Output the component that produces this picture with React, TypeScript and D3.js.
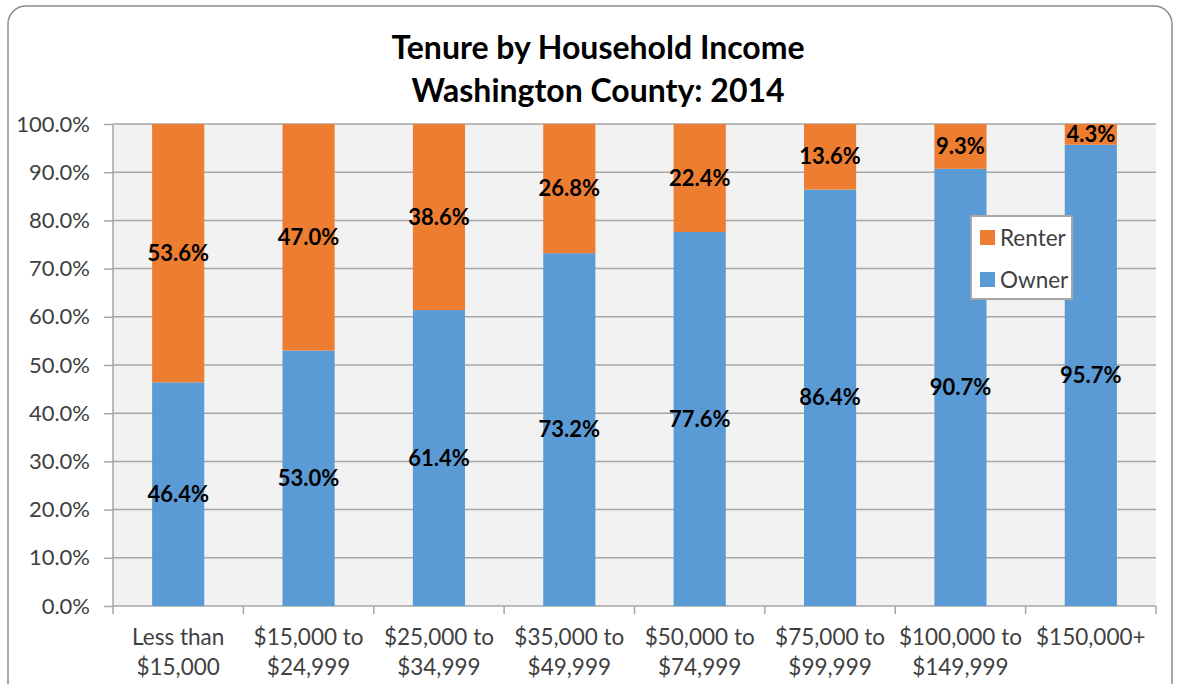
import React, { useEffect, useRef } from 'react';
import * as d3 from 'd3';

const categories = [
  ['Less than', '$15,000'],
  ['$15,000 to', '$24,999'],
  ['$25,000 to', '$34,999'],
  ['$35,000 to', '$49,999'],
  ['$50,000 to', '$74,999'],
  ['$75,000 to', '$99,999'],
  ['$100,000 to', '$149,999'],
  ['$150,000+'],
];
const owner = [46.4, 53.0, 61.4, 73.2, 77.6, 86.4, 90.7, 95.7];
const renter = [53.6, 47.0, 38.6, 26.8, 22.4, 13.6, 9.3, 4.3];
const yTicks = [0, 10, 20, 30, 40, 50, 60, 70, 80, 90, 100];
const titleLines = ['Tenure by Household Income', 'Washington County: 2014'];

const ORANGE = '#ED7D31';
const BLUE = '#5B9BD5';
const FONT = 'Lato, "Open Sans", sans-serif';

const App: React.FC = () => {
  const svgRef = useRef<SVGSVGElement>(null);

  useEffect(() => {
    if (!svgRef.current) return;
    const svg = d3.select(svgRef.current);
    svg.selectAll('*').remove();

    const width = 1177;
    const height = 684;
    const margin = { top: 124, right: 21, bottom: 78, left: 113 };
    const innerWidth = width - margin.left - margin.right;
    const innerHeight = height - margin.top - margin.bottom;

    // outer frame
    svg.append('rect')
      .attr('x', 8).attr('y', 6)
      .attr('width', 1164).attr('height', 700)
      .attr('rx', 18)
      .attr('fill', '#fff')
      .attr('stroke', '#8c8c8c')
      .attr('stroke-width', 1.5);

    // title
    svg.append('text')
      .attr('x', 596).attr('y', 59)
      .attr('text-anchor', 'middle')
      .attr('font-family', FONT)
      .attr('font-weight', 'bold')
      .attr('font-size', 32)
      .attr('fill', '#000')
      .selectAll('tspan')
      .data(titleLines)
      .enter()
      .append('tspan')
      .attr('x', 598)
      .attr('dy', (_, i) => (i === 0 ? 0 : 43))
      .text(d => d);

    const g = svg.append('g')
      .attr('transform', `translate(${margin.left},${margin.top})`);

    const x = d3.scaleBand<number>()
      .domain(d3.range(categories.length))
      .range([0, innerWidth])
      .paddingInner(0.6)
      .paddingOuter(0.3);

    const y = d3.scaleLinear().domain([0, 100]).range([innerHeight, 0]);

    g.append('rect')
      .attr('width', innerWidth)
      .attr('height', innerHeight)
      .attr('fill', '#f2f2f2');

    // gridlines + y labels
    const yAxis = g.append('g')
      .call(d3.axisLeft(y).tickValues(yTicks).tickSize(9).tickFormat(d => `${(+d).toFixed(1)}%`));
    yAxis.select('.domain').remove();
    yAxis.selectAll('line').attr('stroke', '#a6a6a6').attr('stroke-width', 1.5);
    yAxis.selectAll('text')
      .attr('font-family', FONT)
      .attr('font-size', 22)
      .attr('fill', '#404040')
      .attr('dx', -11);

    g.selectAll('.grid')
      .data(yTicks)
      .enter()
      .append('line')
      .attr('x1', 0).attr('x2', innerWidth)
      .attr('y1', d => y(d)).attr('y2', d => y(d))
      .attr('stroke', '#a6a6a6')
      .attr('stroke-width', 1.5);

    g.append('line')
      .attr('x1', 0).attr('x2', 0)
      .attr('y1', 0).attr('y2', innerHeight)
      .attr('stroke', '#a6a6a6')
      .attr('stroke-width', 1.5);

    // x axis ticks at band boundaries
    const step = x.step();
    g.selectAll('.xtick')
      .data(d3.range(categories.length + 1))
      .enter()
      .append('line')
      .attr('x1', d => d * step).attr('x2', d => d * step)
      .attr('y1', innerHeight).attr('y2', innerHeight + 8)
      .attr('stroke', '#a6a6a6')
      .attr('stroke-width', 1.5);

    // bars
    g.selectAll('.owner')
      .data(owner)
      .enter()
      .append('rect')
      .attr('x', (_, i) => x(i)!)
      .attr('width', x.bandwidth())
      .attr('y', d => y(d))
      .attr('height', d => innerHeight - y(d))
      .attr('fill', BLUE);

    g.selectAll('.renter')
      .data(renter)
      .enter()
      .append('rect')
      .attr('x', (_, i) => x(i)!)
      .attr('width', x.bandwidth())
      .attr('y', (d, i) => y(owner[i] + d))
      .attr('height', (d, i) => y(owner[i]) - y(owner[i] + d))
      .attr('fill', ORANGE);

    // data labels
    const label = (vals: number[], base: (i: number) => number) =>
      g.append('g').selectAll('text')
        .data(vals)
        .enter()
        .append('text')
        .attr('x', (_, i) => x(i)! + x.bandwidth() / 2)
        .attr('y', (d, i) => y(base(i) + d / 2))
        .attr('dy', '0.35em')
        .attr('text-anchor', 'middle')
        .attr('font-family', FONT)
        .attr('font-weight', 'bold')
        .attr('font-size', 22)
        .attr('fill', '#000')
        .text(d => `${d.toFixed(1)}%`);
    label(owner, () => 0);
    label(renter, i => owner[i]);

    // x labels
    g.append('g').selectAll('text')
      .data(categories)
      .enter()
      .append('text')
      .attr('x', (_, i) => x(i)! + x.bandwidth() / 2)
      .attr('y', innerHeight + 39)
      .attr('text-anchor', 'middle')
      .attr('font-family', FONT)
      .attr('font-size', 22.5)
      .attr('fill', '#404040')
      .selectAll('tspan')
      .data(d => d)
      .enter()
      .append('tspan')
      .attr('x', function () {
        return (this.parentNode as SVGTextElement).getAttribute('x');
      })
      .attr('dy', (_, i) => (i === 0 ? 0 : 30))
      .text(d => d);

    // legend
    const legend = svg.append('g').attr('transform', 'translate(971,216)');
    legend.append('rect')
      .attr('width', 101).attr('height', 83)
      .attr('fill', '#fff')
      .attr('stroke', '#a6a6a6')
      .attr('stroke-width', 2);
    const items = [
      { name: 'Renter', color: ORANGE },
      { name: 'Owner', color: BLUE },
    ];
    items.forEach((it, i) => {
      legend.append('rect')
        .attr('x', 9).attr('y', 14 + i * 42)
        .attr('width', 15).attr('height', 15)
        .attr('fill', it.color);
      legend.append('text')
        .attr('x', 29).attr('y', 22 + i * 42)
        .attr('dy', '0.35em')
        .attr('font-family', FONT)
        .attr('font-size', 22.5)
        .attr('fill', '#404040')
        .text(it.name);
    });
  }, []);

  return (
    <svg ref={svgRef} width={1177} height={684} style={{ display: 'block', position: 'absolute', left: 0, top: 0 }} />
  );
};

export default App;
